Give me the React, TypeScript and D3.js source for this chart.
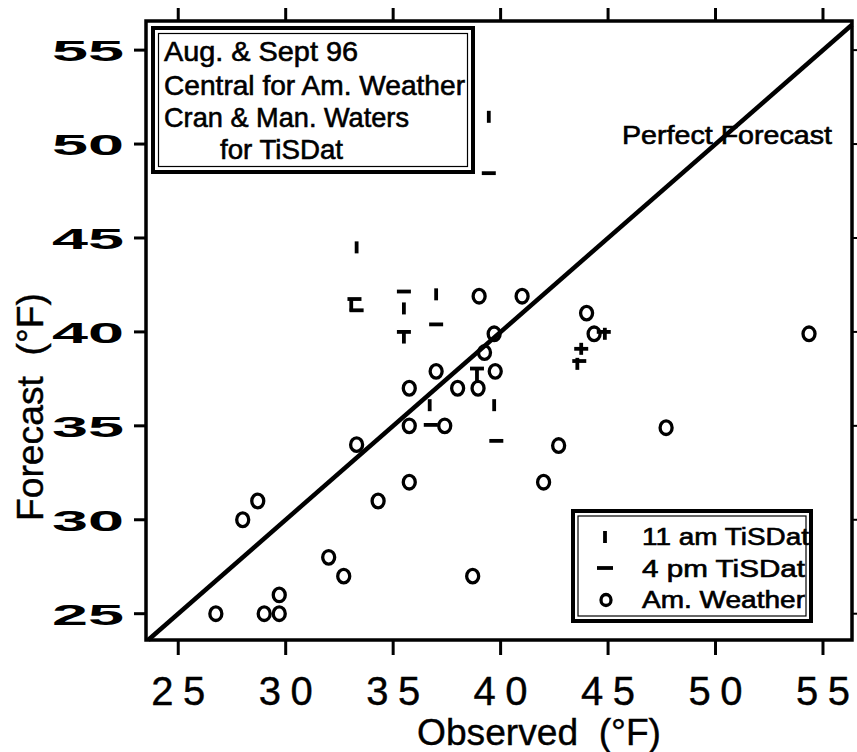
import React from "react";
import * as d3 from "d3";

// ---- data ----
const amObs = [26.75, 28, 28.7, 29, 29.7, 29.7, 32, 32.7, 34.3, 35.75, 38.7, 33.3, 35.75, 37.4, 35.75, 37, 38, 38.95, 39.75, 39.25, 39.7, 39, 41, 44, 44.35, 54.35, 47.7, 42.7, 42];
const amFc = [25, 30, 31, 25, 25, 26, 28, 27, 31, 32, 27, 34, 35, 35, 37, 37.9, 37, 37, 37.9, 38.9, 39.9, 41.9, 41.9, 41, 39.9, 39.9, 34.9, 33.95, 32];

const am11Obs = [33.3, 33.05, 35.5, 35.5, 37, 38.9, 36.7, 39.7, 39.45, 44.85, 43.75, 43.57];
const am11Fc = [44.5, 41.4, 41.25, 39.7, 42, 37.7, 36.1, 36.1, 51.45, 39.9, 39.1, 38.3];

const pm4Obs = [33.2, 33.3, 35.5, 35.5, 37, 38.9, 36.75, 39.8, 39.45, 44.8, 43.75, 43.66];
const pm4Fc = [41.75, 41.15, 42.15, 40.0, 40.4, 38.05, 35.05, 34.2, 48.45, 40.0, 39.1, 38.45];

const xTicks = [25, 30, 35, 40, 45, 50, 55];
const yTicks = [25, 30, 35, 40, 45, 50, 55];

const infoLines = ["Aug. & Sept 96", "Central for Am. Weather", "Cran & Man. Waters", "for TiSDat"];
const legendLabels = ["11 am TiSDat", "4 pm TiSDat", "Am. Weather"];

const FONT = "'Liberation Sans', Arial, Helvetica, sans-serif";

export default function App() {
  const x = d3.scaleLinear().domain([23.5, 56.35]).range([146, 852]);
  const y = d3.scaleLinear().domain([23.6, 56.55]).range([640, 21]);
  const [x0, x1] = x.range();
  const [y0, y1] = y.range();
  const diag = d3.line<number>()(
    [23.6, 56.35].map((v) => [x(v), y(v)] as [number, number])
  );

  const infoX = [164, 164, 164, 220];
  const infoY = [61, 95, 127, 159];
  const infoLen = [194, 301, 245, 123];

  const legLen = [167, 163, 163];
  const heavy = { stroke: "#000", strokeWidth: 0.6 } as const;

  return (
    <svg
      width={857}
      height={752}
      style={{ position: "absolute", left: 0, top: 0, background: "#fff" }}
      fontFamily={FONT}
    >
      <rect x={0} y={0} width={857} height={752} fill="#fff" />

      {/* frame */}
      <rect x={x0} y={y1} width={x1 - x0} height={y0 - y1} fill="none" stroke="#000" strokeWidth={3.5} />

      {/* ticks */}
      {xTicks.map((t) => (
        <g key={"xt" + t}>
          <line x1={x(t)} x2={x(t)} y1={y0} y2={y0 + 15} stroke="#000" strokeWidth={3} />
          <line x1={x(t)} x2={x(t)} y1={y1} y2={y1 - 13} stroke="#000" strokeWidth={3} />
          <text
            x={x(t)}
            y={705}
            textAnchor="middle"
            fontSize={40}
            textLength={54}
            lengthAdjust="spacing"
            {...heavy}
            strokeWidth={0.4}
          >
            {String(t)}
          </text>
        </g>
      ))}
      {yTicks.map((t) => (
        <g key={"yt" + t}>
          <line x1={x0} x2={x0 - 12} y1={y(t)} y2={y(t)} stroke="#000" strokeWidth={3} />
          <line x1={x1} x2={x1 + 5} y1={y(t)} y2={y(t)} stroke="#000" strokeWidth={2} />
          <text
            x={124}
            y={y(t) + 11}
            textAnchor="end"
            fontSize={30}
            fontWeight="bold"
            textLength={72}
            lengthAdjust="spacingAndGlyphs"
          >
            {String(t)}
          </text>
        </g>
      ))}

      {/* axis titles */}
      <text x={539} y={745} textAnchor="middle" fontSize={37} textLength={244} lengthAdjust="spacingAndGlyphs" style={{ whiteSpace: "pre" }} {...heavy} strokeWidth={0.4}>
        Observed  (°F)
      </text>
      <text
        transform="translate(43,407) rotate(-90)"
        textAnchor="middle"
        fontSize={37}
        textLength={228}
        lengthAdjust="spacingAndGlyphs"
        style={{ whiteSpace: "pre" }}
        {...heavy}
        strokeWidth={0.4}
      >
        Forecast  (°F)
      </text>

      {/* perfect forecast line */}
      <path d={diag || ""} stroke="#000" strokeWidth={4.5} fill="none" />
      <text x={622} y={144} fontSize={25} textLength={210} lengthAdjust="spacingAndGlyphs" {...heavy}>
        Perfect Forecast
      </text>

      {/* info box */}
      <rect x={153} y={28} width={320} height={144} fill="#fff" stroke="#000" strokeWidth={4} />
      <rect x={158.5} y={33.5} width={309} height={133} fill="none" stroke="#000" strokeWidth={1.2} />
      {infoLines.map((s, i) => (
        <text key={s} x={infoX[i]} y={infoY[i]} fontSize={28} textLength={infoLen[i]} lengthAdjust="spacingAndGlyphs" {...heavy}>
          {s}
        </text>
      ))}

      {/* data: Am. Weather circles */}
      {amObs.map((o, i) => (
        <ellipse key={"c" + i} cx={x(o)} cy={y(amFc[i])} rx={6} ry={6.8} fill="none" stroke="#000" strokeWidth={3.3} />
      ))}
      {/* 11 am TiSDat: vertical bars */}
      {am11Obs.map((o, i) => (
        <line key={"v" + i} x1={x(o)} x2={x(o)} y1={y(am11Fc[i]) - 6} y2={y(am11Fc[i]) + 6} stroke="#000" strokeWidth={3.8} />
      ))}
      {/* 4 pm TiSDat: dashes */}
      {pm4Obs.map((o, i) => (
        <line key={"h" + i} x1={x(o) - 7} x2={x(o) + 7} y1={y(pm4Fc[i])} y2={y(pm4Fc[i])} stroke="#000" strokeWidth={3.8} />
      ))}

      {/* legend */}
      <rect x={573} y={511} width={238} height={110} fill="#fff" stroke="#000" strokeWidth={4} />
      <rect x={578} y={516} width={228} height={100} fill="none" stroke="#000" strokeWidth={1.2} />
      <line x1={605} x2={605} y1={531} y2={543} stroke="#000" strokeWidth={3.8} />
      <line x1={597} x2={613} y1={568} y2={568} stroke="#000" strokeWidth={3.8} />
      <ellipse cx={606} cy={600} rx={5} ry={5.5} fill="none" stroke="#000" strokeWidth={3.3} />
      {legendLabels.map((s, i) => (
        <text key={s} x={642} y={[545, 577, 608][i]} fontSize={23} textLength={legLen[i]} lengthAdjust="spacingAndGlyphs" {...heavy}>
          {s}
        </text>
      ))}
    </svg>
  );
}
